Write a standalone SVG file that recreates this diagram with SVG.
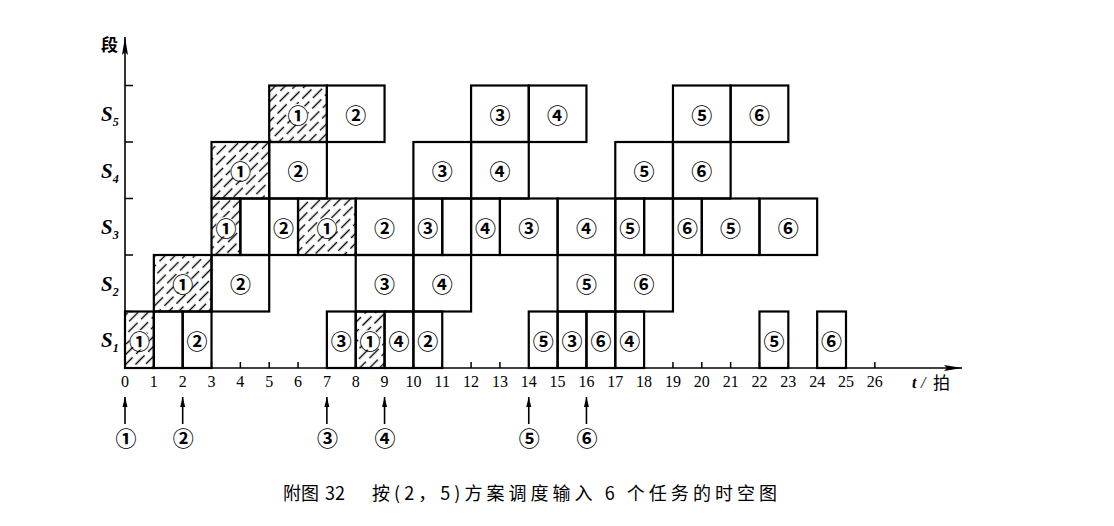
<svg xmlns="http://www.w3.org/2000/svg" width="1114" height="526" viewBox="0 0 1114 526">
<style>
.box{fill:none;stroke:#000;stroke-width:2.2}
.hb{fill:url(#hatch);stroke:#000;stroke-width:2.2}
.lbl{font-family:"Noto Sans CJK SC","DejaVu Sans",sans-serif;font-size:21px;font-weight:bold;text-anchor:middle;dominant-baseline:central;fill:#000}
.wc{fill:#fff;stroke:none}
.ax{stroke:#000;stroke-width:1.6;fill:none}
.tk{stroke:#000;stroke-width:1.5}
.num{font-family:"Liberation Serif",serif;font-size:16px;text-anchor:middle;fill:#000}
.sl{font-family:"Liberation Serif",serif;font-size:21px;font-style:italic;font-weight:bold;fill:#000}
.sub{font-family:"Liberation Serif",serif;font-size:12px;font-weight:bold;fill:#000}
.cap{font-family:"Noto Sans CJK SC",sans-serif;font-size:18px;fill:#000}
</style>
<defs>
<pattern id="hatch" patternUnits="userSpaceOnUse" width="18" height="14" patternTransform="rotate(-45)">
<line x1="0" y1="3.5" x2="13" y2="3.5" stroke="#000" stroke-width="1.4"/>
<line x1="8" y1="10.5" x2="18" y2="10.5" stroke="#000" stroke-width="1.4"/>
<line x1="0" y1="10.5" x2="3" y2="10.5" stroke="#000" stroke-width="1.4"/>
</pattern>
<marker id="ah" markerUnits="userSpaceOnUse" markerWidth="10" markerHeight="6" refX="10" refY="3" orient="auto"><path d="M0,0.5 L10,3 L0,5.5 z" fill="#000"/></marker>
<marker id="axh" markerUnits="userSpaceOnUse" markerWidth="18" markerHeight="6" refX="18" refY="3" orient="auto"><path d="M0,0 L18,3 L0,6 L3,3 z" fill="#000"/></marker>
</defs>
<rect width="1114" height="526" fill="#fff"/>

<!-- S1 row -->
<g id="s1-t0"><rect class="hb" x="125" y="311.5" width="28.84" height="56.5"/><circle class="wc" cx="139.4" cy="339.75" r="10"/><text class="lbl" x="139.4" y="339.75">①</text></g>
<g id="s1-t1"><rect class="box" x="153.84" y="311.5" width="28.84" height="56.5"/></g>
<g id="s1-t2"><rect class="box" x="182.68" y="311.5" width="28.84" height="56.5"/><text class="lbl" x="197.1" y="339.75">②</text></g>
<g id="s1-t7"><rect class="box" x="326.88" y="311.5" width="28.84" height="56.5"/><text class="lbl" x="341.3" y="339.75">③</text></g>
<g id="s1-t8"><rect class="hb" x="355.72" y="311.5" width="28.84" height="56.5"/><circle class="wc" cx="370.1" cy="339.75" r="10"/><text class="lbl" x="370.1" y="339.75">①</text></g>
<g id="s1-t9"><rect class="box" x="384.56" y="311.5" width="28.84" height="56.5"/><text class="lbl" x="399" y="339.75">④</text></g>
<g id="s1-t10"><rect class="box" x="413.4" y="311.5" width="28.84" height="56.5"/><text class="lbl" x="427.8" y="339.75">②</text></g>
<g id="s1-t14"><rect class="box" x="528.76" y="311.5" width="28.84" height="56.5"/><text class="lbl" x="543.2" y="339.75">⑤</text></g>
<g id="s1-t15"><rect class="box" x="557.6" y="311.5" width="28.84" height="56.5"/><text class="lbl" x="572" y="339.75">③</text></g>
<g id="s1-t16"><rect class="box" x="586.44" y="311.5" width="28.84" height="56.5"/><text class="lbl" x="600.9" y="339.75">⑥</text></g>
<g id="s1-t17"><rect class="box" x="615.28" y="311.5" width="28.84" height="56.5"/><text class="lbl" x="629.7" y="339.75">④</text></g>
<g id="s1-t22"><rect class="box" x="759.48" y="311.5" width="28.84" height="56.5"/><text class="lbl" x="773.9" y="339.75">⑤</text></g>
<g id="s1-t24"><rect class="box" x="817.16" y="311.5" width="28.84" height="56.5"/><text class="lbl" x="831.6" y="339.75">⑥</text></g>

<!-- S2 row -->
<g id="s2-t1"><rect class="hb" x="153.84" y="255" width="57.68" height="56.5"/><circle class="wc" cx="182.7" cy="283.25" r="10"/><text class="lbl" x="182.7" y="283.25">①</text></g>
<g id="s2-t3"><rect class="box" x="211.52" y="255" width="57.68" height="56.5"/><text class="lbl" x="240.4" y="283.25">②</text></g>
<g id="s2-t8"><rect class="box" x="355.72" y="255" width="57.68" height="56.5"/><text class="lbl" x="384.6" y="283.25">③</text></g>
<g id="s2-t10"><rect class="box" x="413.4" y="255" width="57.68" height="56.5"/><text class="lbl" x="442.2" y="283.25">④</text></g>
<g id="s2-t15"><rect class="box" x="557.6" y="255" width="57.68" height="56.5"/><text class="lbl" x="586.4" y="283.25">⑤</text></g>
<g id="s2-t17"><rect class="box" x="615.28" y="255" width="57.68" height="56.5"/><text class="lbl" x="644.1" y="283.25">⑥</text></g>

<!-- S3 row -->
<g id="s3-t3"><rect class="hb" x="211.52" y="198.5" width="28.84" height="56.5"/><circle class="wc" cx="225.9" cy="226.75" r="10"/><text class="lbl" x="225.9" y="226.75">①</text></g>
<g id="s3-t4"><rect class="box" x="240.36" y="198.5" width="28.84" height="56.5"/></g>
<g id="s3-t5"><rect class="box" x="269.2" y="198.5" width="28.84" height="56.5"/><text class="lbl" x="283.6" y="226.75">②</text></g>
<g id="s3-t6"><rect class="hb" x="298.04" y="198.5" width="57.68" height="56.5"/><circle class="wc" cx="326.9" cy="226.75" r="10"/><text class="lbl" x="326.9" y="226.75">①</text></g>
<g id="s3-t8"><rect class="box" x="355.72" y="198.5" width="57.68" height="56.5"/><text class="lbl" x="384.6" y="226.75">②</text></g>
<g id="s3-t10"><rect class="box" x="413.4" y="198.5" width="28.84" height="56.5"/><text class="lbl" x="427.8" y="226.75">③</text></g>
<g id="s3-t11"><rect class="box" x="442.24" y="198.5" width="28.84" height="56.5"/></g>
<g id="s3-t12"><rect class="box" x="471.08" y="198.5" width="28.84" height="56.5"/><text class="lbl" x="485.5" y="226.75">④</text></g>
<g id="s3-t13"><rect class="box" x="499.92" y="198.5" width="57.68" height="56.5"/><text class="lbl" x="528.8" y="226.75">③</text></g>
<g id="s3-t15"><rect class="box" x="557.6" y="198.5" width="57.68" height="56.5"/><text class="lbl" x="586.4" y="226.75">④</text></g>
<g id="s3-t17"><rect class="box" x="615.28" y="198.5" width="28.84" height="56.5"/><text class="lbl" x="629.7" y="226.75">⑤</text></g>
<g id="s3-t18"><rect class="box" x="644.12" y="198.5" width="28.84" height="56.5"/></g>
<g id="s3-t19"><rect class="box" x="672.96" y="198.5" width="28.84" height="56.5"/><text class="lbl" x="687.4" y="226.75">⑥</text></g>
<g id="s3-t20"><rect class="box" x="701.8" y="198.5" width="57.68" height="56.5"/><text class="lbl" x="730.6" y="226.75">⑤</text></g>
<g id="s3-t22"><rect class="box" x="759.48" y="198.5" width="57.68" height="56.5"/><text class="lbl" x="788.3" y="226.75">⑥</text></g>

<!-- S4 row -->
<g id="s4-t3"><rect class="hb" x="211.52" y="142" width="57.68" height="56.5"/><circle class="wc" cx="240.4" cy="170.25" r="10"/><text class="lbl" x="240.4" y="170.25">①</text></g>
<g id="s4-t5"><rect class="box" x="269.2" y="142" width="57.68" height="56.5"/><text class="lbl" x="298" y="170.25">②</text></g>
<g id="s4-t10"><rect class="box" x="413.4" y="142" width="57.68" height="56.5"/><text class="lbl" x="442.2" y="170.25">③</text></g>
<g id="s4-t12"><rect class="box" x="471.08" y="142" width="57.68" height="56.5"/><text class="lbl" x="499.9" y="170.25">④</text></g>
<g id="s4-t17"><rect class="box" x="615.28" y="142" width="57.68" height="56.5"/><text class="lbl" x="644.1" y="170.25">⑤</text></g>
<g id="s4-t19"><rect class="box" x="672.96" y="142" width="57.68" height="56.5"/><text class="lbl" x="701.8" y="170.25">⑥</text></g>

<!-- S5 row -->
<g id="s5-t5"><rect class="hb" x="269.2" y="85.5" width="57.68" height="56.5"/><circle class="wc" cx="298" cy="113.75" r="10"/><text class="lbl" x="298" y="113.75">①</text></g>
<g id="s5-t7"><rect class="box" x="326.88" y="85.5" width="57.68" height="56.5"/><text class="lbl" x="355.7" y="113.75">②</text></g>
<g id="s5-t12"><rect class="box" x="471.08" y="85.5" width="57.68" height="56.5"/><text class="lbl" x="499.9" y="113.75">③</text></g>
<g id="s5-t14"><rect class="box" x="528.76" y="85.5" width="57.68" height="56.5"/><text class="lbl" x="557.6" y="113.75">④</text></g>
<g id="s5-t19"><rect class="box" x="672.96" y="85.5" width="57.68" height="56.5"/><text class="lbl" x="701.8" y="113.75">⑤</text></g>
<g id="s5-t21"><rect class="box" x="730.64" y="85.5" width="57.68" height="56.5"/><text class="lbl" x="759.5" y="113.75">⑥</text></g>

<!-- connectors: axes, ticks, input arrows -->
<g id="connectors">
<line class="ax" x1="125" y1="368" x2="962" y2="368" marker-end="url(#axh)"/>
<line class="ax" x1="125" y1="368" x2="125" y2="37" marker-end="url(#axh)"/>
<path class="tk" d="M125,311.5h8M125,255h8M125,198.5h8M125,142h8M125,85.5h8"/>
<path class="tk" d="M153.84,368v-6M182.68,368v-6M211.52,368v-6M240.36,368v-6M269.2,368v-6M298.04,368v-6M326.88,368v-6M355.72,368v-6M384.56,368v-6M413.4,368v-6M442.24,368v-6M471.08,368v-6M499.92,368v-6M528.76,368v-6M557.6,368v-6M586.44,368v-6M615.28,368v-6M644.12,368v-6M672.96,368v-6M701.8,368v-6M730.64,368v-6M759.48,368v-6M788.32,368v-6M817.16,368v-6M846,368v-6M874.84,368v-6"/>
<line class="ax" x1="125" y1="424" x2="125" y2="397" marker-end="url(#ah)"/>
<line class="ax" x1="182.68" y1="424" x2="182.68" y2="397" marker-end="url(#ah)"/>
<line class="ax" x1="326.88" y1="424" x2="326.88" y2="397" marker-end="url(#ah)"/>
<line class="ax" x1="384.56" y1="424" x2="384.56" y2="397" marker-end="url(#ah)"/>
<line class="ax" x1="528.76" y1="424" x2="528.76" y2="397" marker-end="url(#ah)"/>
<line class="ax" x1="586.44" y1="424" x2="586.44" y2="397" marker-end="url(#ah)"/>
</g>

<!-- input labels -->
<g id="inputs">
<text class="lbl" x="126" y="437">①</text>
<text class="lbl" x="183.2" y="437">②</text>
<text class="lbl" x="327.4" y="437">③</text>
<text class="lbl" x="385" y="437">④</text>
<text class="lbl" x="529.2" y="437">⑤</text>
<text class="lbl" x="587" y="437">⑥</text>
</g>

<!-- axis labels -->
<g id="axis-labels">
<text x="101" y="51" style="font-family:'Noto Sans CJK SC',sans-serif;font-size:17px;font-weight:bold">段</text>
<text class="sl" x="101" y="121">S<tspan class="sub" dy="5">5</tspan></text>
<text class="sl" x="101" y="178">S<tspan class="sub" dy="5">4</tspan></text>
<text class="sl" x="101" y="234">S<tspan class="sub" dy="5">3</tspan></text>
<text class="sl" x="101" y="291">S<tspan class="sub" dy="5">2</tspan></text>
<text class="sl" x="101" y="347">S<tspan class="sub" dy="5">1</tspan></text>
<text class="num" x="125" y="387">0</text>
<text class="num" x="153.84" y="387">1</text>
<text class="num" x="182.68" y="387">2</text>
<text class="num" x="211.52" y="387">3</text>
<text class="num" x="240.36" y="387">4</text>
<text class="num" x="269.2" y="387">5</text>
<text class="num" x="298.04" y="387">6</text>
<text class="num" x="326.88" y="387">7</text>
<text class="num" x="355.72" y="387">8</text>
<text class="num" x="384.56" y="387">9</text>
<text class="num" x="413.4" y="387">10</text>
<text class="num" x="442.24" y="387">11</text>
<text class="num" x="471.08" y="387">12</text>
<text class="num" x="499.92" y="387">13</text>
<text class="num" x="528.76" y="387">14</text>
<text class="num" x="557.6" y="387">15</text>
<text class="num" x="586.44" y="387">16</text>
<text class="num" x="615.28" y="387">17</text>
<text class="num" x="644.12" y="387">18</text>
<text class="num" x="672.96" y="387">19</text>
<text class="num" x="701.8" y="387">20</text>
<text class="num" x="730.64" y="387">21</text>
<text class="num" x="759.48" y="387">22</text>
<text class="num" x="788.32" y="387">23</text>
<text class="num" x="817.16" y="387">24</text>
<text class="num" x="846" y="387">25</text>
<text class="num" x="874.84" y="387">26</text>
<text x="912" y="388" style="font-family:'Liberation Serif',serif;font-size:16px;font-style:italic;font-weight:bold">t</text>
<text x="921" y="388" style="font-family:'Liberation Serif',serif;font-size:16px;font-style:italic">/</text>
<text x="933" y="389" style="font-family:'Noto Sans CJK SC',sans-serif;font-size:17px">拍</text>
</g>

<g id="caption">
<text class="cap" x="283" y="500">附图<tspan x="325">32</tspan></text>
<text class="cap" x="372" y="500" textLength="405" lengthAdjust="spacing">按(2，5)方案调度输入 6 个任务的时空图</text>
</g>
</svg>
